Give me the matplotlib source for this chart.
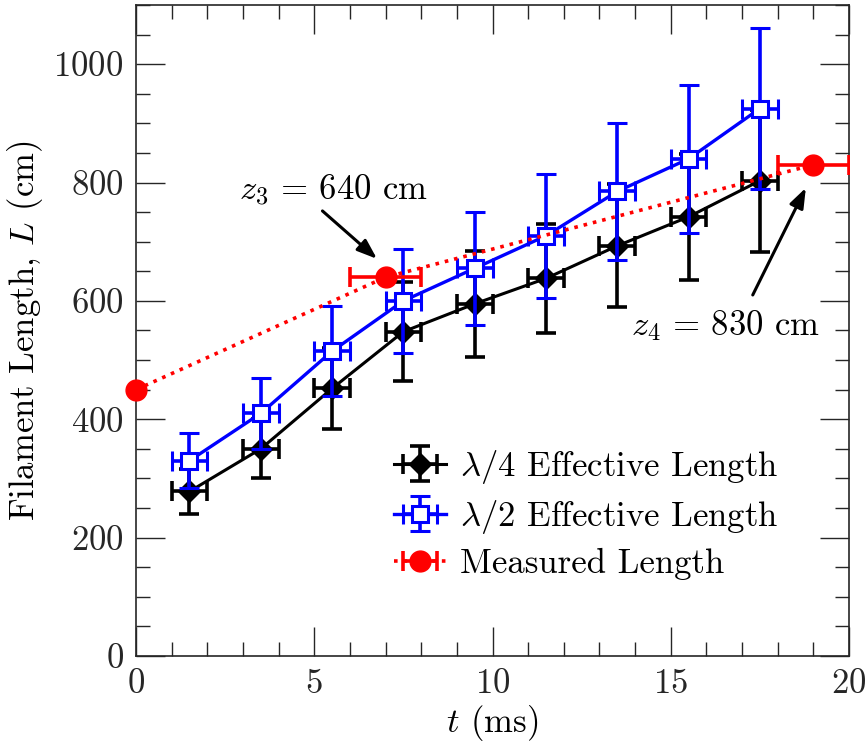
import matplotlib
matplotlib.use("Agg")
import matplotlib.pyplot as plt
import numpy as np

plt.rcParams['font.family'] = 'serif'
plt.rcParams['font.serif'] = ['cmr10']
plt.rcParams['mathtext.fontset'] = 'cm'
plt.rcParams['axes.formatter.use_mathtext'] = True

# --- dados ---
t_sim = [1.5, 3.5, 5.5, 7.5, 9.5, 11.5, 13.5, 15.5, 17.5]
t_err = [0.5] * 9

L_quarter = [278, 350, 452, 548, 595, 638, 693, 742, 803]
L_quarter_err = [38, 50, 68, 84, 89, 92, 104, 106, 120]

L_half = [330, 410, 515, 600, 655, 710, 785, 840, 925]
L_half_err = [46, 60, 76, 88, 95, 105, 116, 125, 136]

t_meas = [0, 7, 19]
L_meas = [450, 640, 830]
t_meas_err = [np.nan, 1, 1]

fs = 25

fig = plt.figure(figsize=(8.68, 7.42), dpi=100)
ax = fig.add_axes([0.1567, 0.1159, 0.8214, 0.8774])

ax.errorbar(t_sim, L_quarter, yerr=L_quarter_err, xerr=t_err, color='k', lw=2.2,
            elinewidth=2.6, capsize=7, capthick=2.6, marker='D', ms=11,
            mfc='k', mec='k', label=r'$\lambda/4$ Effective Length', zorder=3)
ax.errorbar(t_sim, L_half, yerr=L_half_err, xerr=t_err, color='#0000ff', lw=2.4,
            elinewidth=2.6, capsize=7, capthick=2.6, marker='s', ms=11,
            mfc='white', mec='#0000ff', mew=2.2, label=r'$\lambda/2$ Effective Length', zorder=4)
red = ax.errorbar(t_meas, L_meas, xerr=t_meas_err, color='#ff0000', lw=2.6, ls=':',
                  elinewidth=2.6, capsize=7, capthick=2.6, marker='o', ms=15,
                  mfc='#ff0000', mec='#ff0000', label='Measured Length', zorder=5)
red[0].set_clip_on(False)

# --- anotações: texto e seta separados ---
seta = dict(arrowstyle='-|>,head_length=0.6,head_width=0.22', color='k', lw=2.2,
            mutation_scale=20, shrinkA=0, shrinkB=0)
ax.text(5.55, 788, r'$z_3\,=\,640$ cm', fontsize=fs, ha='center', va='center')
ax.annotate('', xy=(6.76, 671), xytext=(5.23, 752), arrowprops=seta)
ax.text(16.55, 558, r'$z_4\,=\,830$ cm', fontsize=fs, ha='center', va='center')
ax.annotate('', xy=(18.79, 791), xytext=(17.30, 610), arrowprops=seta)

ax.set_xlim(0, 20)
ax.set_ylim(0, 1100)
ax.set_xticks([0, 5, 10, 15, 20])
ax.set_yticks([0, 200, 400, 600, 800, 1000])
ax.set_xticks(np.arange(0, 21, 1), minor=True)
ax.set_yticks(np.arange(0, 1101, 50), minor=True)
ax.tick_params(which='both', direction='in', top=True, right=True, labelsize=fs,
               colors='#262626', width=1)
ax.tick_params(which='major', length=21, pad=9)
ax.tick_params(which='minor', length=10)
for s in ax.spines.values():
    s.set_color('#262626')
    s.set_linewidth(1.2)

ax.set_xlabel(r'$t$ (ms)', fontsize=fs, labelpad=2)
ax.set_ylabel(r'Filament Length, $L$ (cm)', fontsize=fs, labelpad=6)

ax.legend(loc='center left', bbox_to_anchor=(0.318, 0.218), frameon=False, fontsize=fs,
          handlelength=1.5, handletextpad=0.4, labelspacing=0.35)

fig.savefig('out.png', dpi=100)
